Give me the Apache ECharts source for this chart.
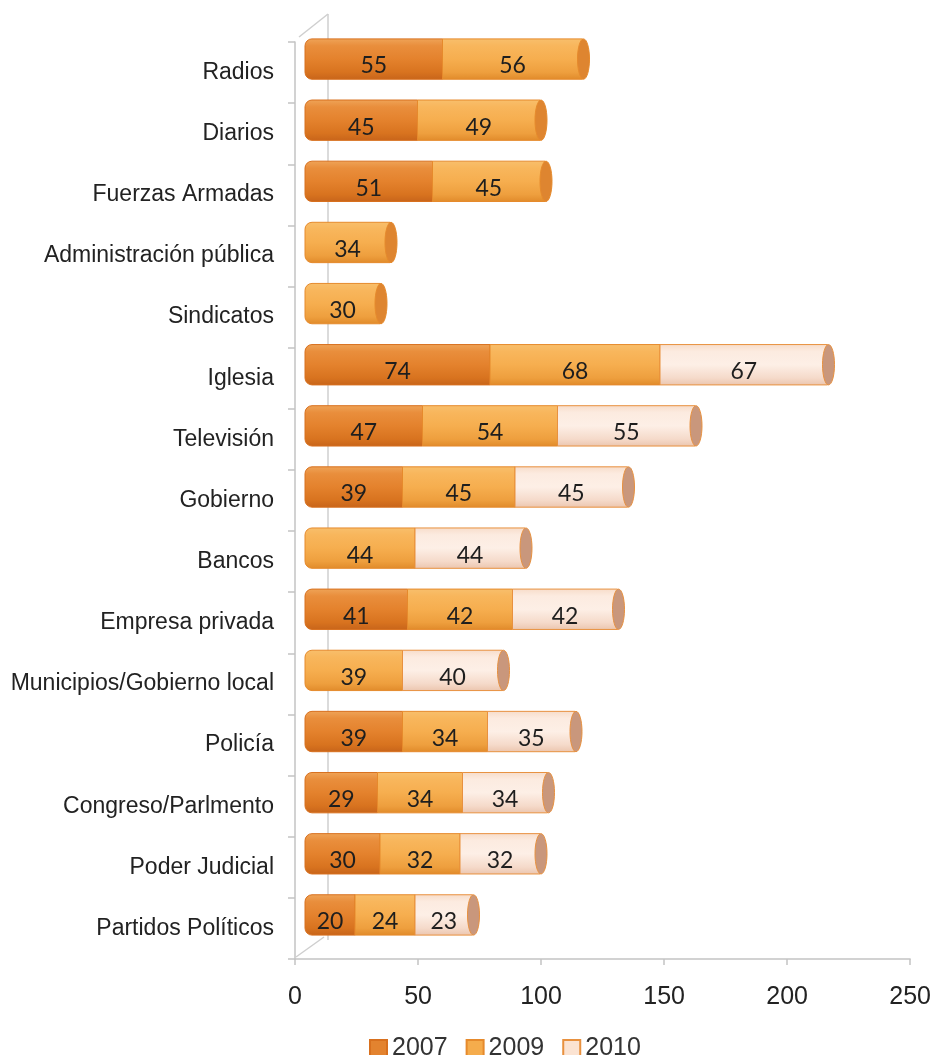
<!DOCTYPE html>
<html>
<head>
<meta charset="utf-8">
<script src="https://cdn.jsdelivr.net/npm/echarts@6/dist/echarts.min.js"></script>
<style>
html,body{margin:0;padding:0;background:#fff;}
#chart{width:934px;height:1055px;}
</style>
</head>
<body>
<div id="chart"></div>
<script>
// ---- data ----
const categories = ['Radios','Diarios','Fuerzas Armadas','Administración pública','Sindicatos','Iglesia','Televisión','Gobierno','Bancos','Empresa privada','Municipios/Gobierno local','Policía','Congreso/Parlmento','Poder Judicial','Partidos Políticos'];
const years = ['2007','2009','2010'];
const v2007 = [55,45,51,null,null,74,47,39,null,41,null,39,29,30,20];
const v2009 = [56,49,45,34,30,68,54,45,44,42,39,34,34,32,24];
const v2010 = [null,null,null,null,null,67,55,45,44,42,40,35,34,32,23];
const xTicks = [0,50,100,150,200,250];

// ---- styles ----
const styles = [
  {stops:['#EFA458','#E98E3C','#E4822D','#D8731F','#C7641A'], border:'#D8701E', cap:'#D07020', legend:'#E3832F'},
  {stops:['#F8BF6C','#F8B65C','#F6AE4F','#EE9F3E','#E08A2A'], border:'#E68A2C', cap:'#DE8530', legend:'#F5AC4C'},
  {stops:['#F7DCC9','#FCEBE0','#FDEFE6','#F5DACA','#EBC5AE'], border:'#E8913F', cap:'#C9977C', legend:'#FBE3D2'}
];
function grad(st){
  return new echarts.graphic.LinearGradient(0,0,0,1,[
    {offset:0,color:st[0]},{offset:0.18,color:st[1]},{offset:0.5,color:st[2]},{offset:0.82,color:st[3]},{offset:1,color:st[4]}
  ]);
}

// build stacked segments
const seriesVals = [v2007, v2009, v2010];
const segData = [[],[],[]];
categories.forEach((c, i) => {
  let acc = 0;
  let lastK = -1;
  seriesVals.forEach((arr, k) => { if (arr[i] != null) lastK = k; });
  seriesVals.forEach((arr, k) => {
    const v = arr[i];
    if (v == null) return;
    segData[k].push([i, acc, acc + v, v, acc === 0 ? 1 : 0, k === lastK ? 1 : 0]);
    acc += v;
  });
});

function makeRender(k){
  const st = styles[k];
  return function(params, api){
    const cat = api.value(0), s = api.value(1), e = api.value(2), val = api.value(3);
    const first = api.value(4) === 1, last = api.value(5) === 1;
    const p0 = api.coord([s, cat]);
    const p1 = api.coord([e, cat]);
    const h = api.size([0, 1])[1] * 0.66;
    const y = p0[1] - h / 2;
    const children = [{
      type:'rect',
      shape:{x:p0[0], y:y, width:p1[0]-p0[0], height:h, r: first ? [7,0,0,7] : 0},
      style:{fill:grad(st.stops), stroke:st.border, lineWidth:1}
    }];
    if (last) {
      children.push({
        type:'ellipse',
        shape:{cx:p1[0]+1, cy:p0[1], rx:6, ry:h/2},
        style:{fill:st.cap, stroke:st.border, lineWidth:1}
      });
    }
    children.push({
      type:'text',
      style:{text:String(val), x:(p0[0]+p1[0])/2, y:p0[1]+7, align:'center', verticalAlign:'middle',
        font:'23px Lato, "Open Sans", sans-serif', fill:'#1e1e1e'}
    });
    return {type:'group', children:children};
  };
}

const chart = echarts.init(document.getElementById('chart'), null, {renderer:'canvas'});
const axisGray = '#c3c3c3';
const option = {
  animation:false,
  backgroundColor:'#fff',
  grid:[
    {left:295, right:22, top:42, bottom:96},
    {left:305, right:4, top:28.5, bottom:109.5}
  ],
  xAxis:[
    {gridIndex:0, type:'value', min:xTicks[0], max:xTicks[xTicks.length-1], interval:xTicks[1]-xTicks[0],
      axisLine:{show:true, lineStyle:{color:axisGray, width:1.5}},
      axisTick:{show:true, length:6, lineStyle:{color:axisGray, width:1.5}},
      splitLine:{show:false},
      axisLabel:{fontSize:25, color:'#222', margin:26, fontFamily:'"Liberation Sans", Arial, sans-serif'}},
    {gridIndex:1, type:'value', min:xTicks[0], max:xTicks[xTicks.length-1], show:false, splitLine:{show:false}}
  ],
  yAxis:[
    {gridIndex:0, type:'category', data:categories, inverse:true,
      axisLine:{show:true, lineStyle:{color:axisGray, width:1.5}},
      axisTick:{show:true, length:7, lineStyle:{color:axisGray, width:1.5}},
      axisLabel:{fontSize:23, color:'#222', margin:21, fontFamily:'"Liberation Sans", Arial, sans-serif'}},
    {gridIndex:1, type:'category', data:categories, inverse:true, show:false}
  ],
  legend:{
    data:years, left:364, top:1031, itemWidth:17, itemHeight:17, itemGap:18, icon:'rect',
    textStyle:{fontSize:25, color:'#333', fontFamily:'"Liberation Sans", Arial, sans-serif'}
  },
  graphic:[
    {type:'line', z:0, shape:{x1:328, y1:14, x2:328, y2:940}, style:{stroke:'#cfcfcf', lineWidth:1.5}},
    {type:'line', z:0, shape:{x1:299, y1:37, x2:328, y2:14}, style:{stroke:'#cfcfcf', lineWidth:1.5}},
    {type:'line', z:0, shape:{x1:296, y1:957, x2:324, y2:937}, style:{stroke:'#cfcfcf', lineWidth:1.5}}
  ],
  series: years.map((y, k) => ({
    name:y, type:'custom', xAxisIndex:1, yAxisIndex:1, z:5,
    itemStyle:{color:styles[k].legend, borderColor:styles[k].border, borderWidth:1},
    encode:{x:[1,2], y:0},
    data:segData[k],
    renderItem:makeRender(k)
  }))
};
chart.setOption(option);
</script>
</body>
</html>
